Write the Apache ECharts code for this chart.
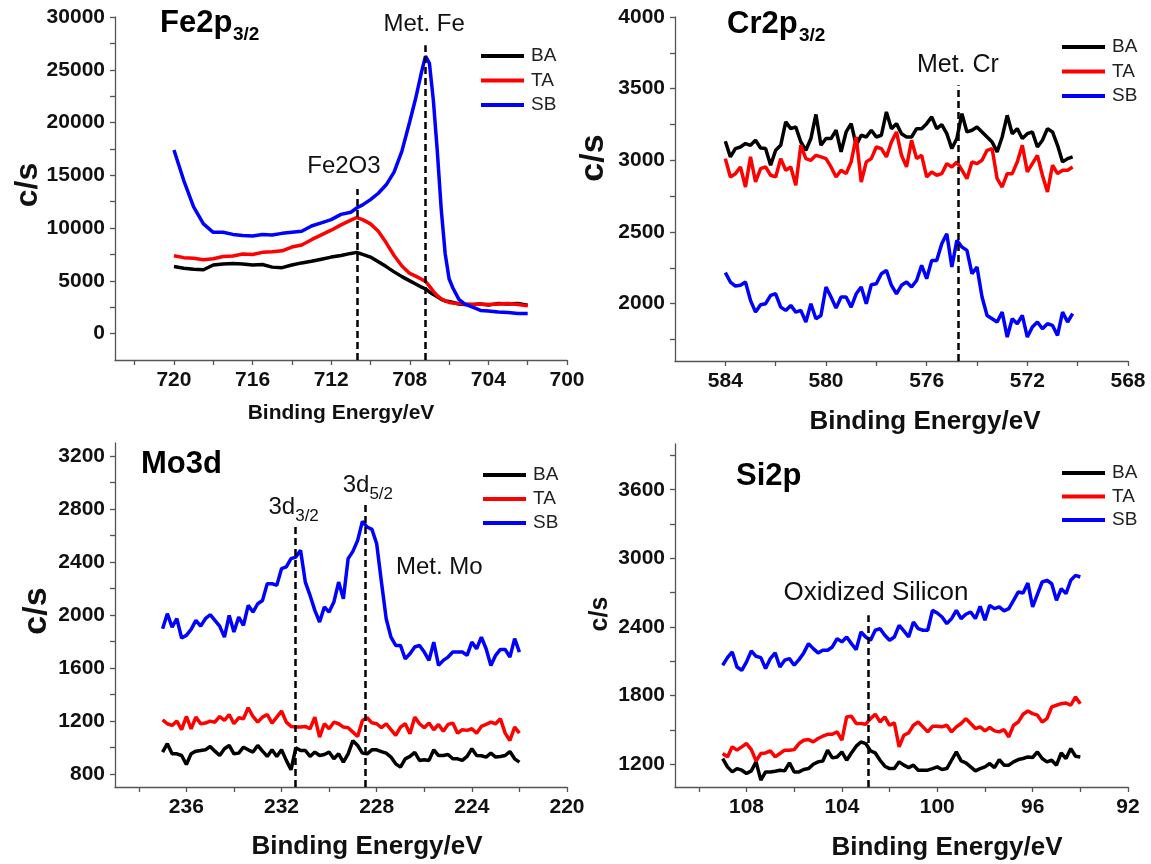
<!DOCTYPE html>
<html><head><meta charset="utf-8">
<script src="https://cdn.jsdelivr.net/npm/echarts@6/dist/echarts.min.js"></script>
<style>html,body{margin:0;padding:0;background:#fff}#c{width:1151px;height:864px}</style>
</head><body><div id="c"></div>
<script>
// ---------------- DATA ----------------
const seriesNames = ['BA', 'TA', 'SB'];
const seriesColors = ['#000000', '#ff0000', '#0000ff'];

// Fe2p3/2 panel
const feEnergy = [720,719.5,719,718.5,718,717.5,717,716.5,716,715.5,715,714.5,714,713.5,713,712.5,712,711.5,711,
  710.7,710.4,710,709.6,709.2,708.8,708.4,708,707.7,707.4,707.2,707,706.8,706.6,706.4,706.2,706,
  705.8,705.5,705.2,704.8,704.4,704,703.5,703,702.5,702];
const feBA = [6360,6200,6100,6050,6500,6600,6650,6600,6500,6550,6300,6250,6500,6700,6850,7050,7250,7400,7600,
  7700,7500,7250,6800,6350,5850,5400,5000,4700,4400,4250,3950,3700,3500,3250,3100,3050,
  2950,2800,2750,2750,2800,2700,2850,2800,2850,2700];
const feTA = [7370,7200,7150,7000,7100,7300,7350,7550,7500,7700,7750,7850,8200,8400,8900,9350,9800,10300,10750,
  11000,10800,10400,9700,8600,7400,6400,5700,5450,5150,4950,4500,4000,3600,3300,3100,2950,
  2900,2850,2800,2750,2800,2750,2800,2850,2750,2650];
const feSB = [17400,14500,12000,10400,9600,9600,9400,9300,9250,9400,9350,9500,9600,9700,10200,10500,10800,11300,11500,
  11900,12200,12700,13300,14100,15300,17300,20100,22300,24800,26300,25600,22100,17300,11800,7600,5200,
  4300,3250,2800,2500,2200,2150,2050,2000,1900,1900];
const feXLabels = [700,704,708,712,716,720];
const feXTicks = [700,702,704,706,708,710,712,714,716,718,720,722];
const feYLabels = [0,5000,10000,15000,20000,25000,30000];
const feYTicks = [0,2500,5000,7500,10000,12500,15000,17500,20000,22500,25000,27500,30000];
const feMarkLines = [[710.67, 13710], [707.22, 27320]];
const feNotes = [['Met. Fe', 707.27, 29310], ['Fe2O3', 711.35, 15820]];

// Cr2p3/2 panel (energy grid 584.0 -> 570.2, step 0.2 eV)
const crStart = 584.0, crStep = -0.2;
const crBA = [3133,3024,3082,3093,3117,3105,3140,3086,3082,2966,
  3070,3105,3268,3221,3233,3128,3070,3152,3320,3105,
  3152,3152,3210,3059,3198,3256,3105,3175,3163,3210,
  3163,3175,3338,3221,3256,3186,3163,3163,3221,3221,
  3256,3303,3221,3249,3186,3082,3152,3326,3198,3210,
  3233,3198,3163,3128,3059,3163,3314,3186,3221,3152,
  3186,3198,3093,3140,3221,3198,3105,2989,3012,3024];
const crTA = [3012,2884,2907,2954,2814,3024,2849,2942,2954,2896,
  2884,3012,2931,2954,2826,3105,3012,3000,3035,3024,
  3012,2954,2884,2931,2907,2989,3163,2849,2989,3012,
  3093,3082,3024,3128,3198,3035,2954,3140,3012,3035,
  2884,2919,2896,2907,2977,2954,2989,2931,2872,2989,
  2977,3000,3070,3082,2872,2814,2907,2907,2989,3105,
  2919,2977,3035,2896,2779,2966,2907,2931,2931,2954];
const crSB = [2216,2151,2123,2128,2151,2023,1941,1993,2000,2058,
  2069,1976,1953,1988,1941,1953,1872,1999,1895,1918,
  2116,2046,1969,2046,2046,1976,2069,2116,1999,2132,
  2139,2209,2232,2127,2069,2128,2151,2116,2162,2267,
  2174,2302,2302,2418,2488,2256,2442,2395,2372,2209,
  2255,2046,1918,1895,1872,1941,1767,1895,1860,1918,
  1767,1837,1872,1825,1860,1848,1779,1941,1872,1930];
const crXLabels = [568,572,576,580,584];
const crXTicks = [568,570,572,574,576,578,580,582,584];
const crYLabels = [2000,2500,3000,3500,4000];
const crYTicks = [1750,2000,2250,2500,2750,3000,3250,3500,3750,4000];
const crMarkLines = [[574.75, 3523]];
const crNotes = [['Met. Cr', 574.76, 3663]];

// Mo3d panel (energy grid 237.0 -> 222.0, step 0.2 eV)
const moStart = 237.0, moStep = -0.2;
const moBA = [964,1027,951,951,938,870,951,971,976,981,
  1006,971,938,989,1014,951,956,1001,981,964,
  1014,971,931,981,931,981,901,830,996,976,
  976,931,964,938,946,964,913,951,888,951,
  1050,1014,956,951,981,981,968,956,926,875,
  850,913,931,961,901,906,901,981,938,938,
  946,913,913,901,931,989,938,936,926,956,
  926,931,938,968,913,888];
const moTA = [1208,1178,1165,1198,1133,1233,1140,1228,1178,1183,
  1198,1190,1233,1203,1248,1178,1223,1216,1299,1233,
  1190,1228,1248,1183,1228,1274,1190,1158,1153,1153,
  1158,1140,1228,1077,1178,1140,1190,1178,1153,1148,
  1115,1082,1203,1223,1185,1178,1148,1178,1133,1090,
  1153,1178,1102,1228,1178,1148,1183,1133,1173,1122,
  1173,1183,1107,1133,1128,1140,1107,1158,1173,1190,
  1178,1216,1107,1052,1153,1107];
const moSB = [1896,2010,1909,1972,1826,1846,1891,1959,1916,1972,
  2002,1959,1916,1833,1997,1871,1984,1921,2073,2022,
  2085,2110,2237,2237,2224,2350,2363,2426,2438,2489,
  2249,2148,2035,1947,2060,2022,2098,2249,2123,2426,
  2481,2564,2708,2665,2647,2539,2249,1972,1833,1770,
  1770,1669,1707,1758,1770,1720,1657,1795,1619,1657,
  1682,1720,1720,1720,1695,1795,1745,1833,1745,1619,
  1695,1740,1740,1682,1821,1720];
const moXLabels = [220,224,228,232,236];
const moXTicks = [220,222,224,226,228,230,232,234,236,238];
const moYLabels = [800,1200,1600,2000,2400,2800,3200];
const moYTicks = [800,1000,1200,1400,1600,1800,2000,2200,2400,2600,2800,3000,3200];
const moMarkLines = [[231.41, 2665], [228.5, 2842]];
const moNotes = [['{a|3d}{b|3/2}', 231.49, 2817], ['{a|3d}{b|5/2}', 228.37, 2981], ['Met. Mo', 225.37, 2360]];

// Si2p panel (energy grid 109.0 -> 94.0, step 0.2 eV)
const siStart = 109.0, siStep = -0.2;
const siBA = [1249,1176,1132,1161,1147,1118,1141,1220,1060,1132,
  1132,1138,1147,1141,1211,1132,1132,1153,1161,1199,
  1220,1228,1322,1255,1263,1307,1234,1298,1357,1394,
  1380,1316,1298,1234,1182,1161,1161,1220,1191,1170,
  1191,1147,1147,1147,1161,1176,1153,1161,1234,1307,
  1228,1211,1176,1141,1161,1176,1205,1170,1240,1191,
  1191,1220,1240,1249,1263,1258,1307,1249,1220,1234,
  1191,1298,1249,1336,1269,1263];
const siTA = [1293,1263,1351,1322,1351,1380,1327,1228,1293,1298,
  1316,1263,1293,1322,1322,1327,1380,1409,1415,1395,
  1424,1444,1461,1461,1482,1409,1613,1619,1555,1555,
  1549,1598,1636,1569,1613,1540,1561,1351,1453,1473,
  1540,1569,1526,1482,1531,1531,1526,1540,1482,1526,
  1555,1598,1555,1511,1526,1491,1520,1491,1482,1502,
  1438,1540,1569,1636,1665,1642,1628,1569,1598,1700,
  1715,1729,1735,1715,1788,1729];
const siSB = [2065,2132,2181,2050,2021,2094,2190,2143,2132,2036,
  2123,2173,2050,2109,2123,2065,2114,2173,2254,2210,
  2173,2196,2196,2225,2298,2269,2312,2254,2202,2356,
  2312,2283,2371,2385,2327,2283,2312,2414,2365,2312,
  2443,2385,2371,2371,2545,2522,2487,2429,2473,2545,
  2473,2511,2531,2473,2580,2458,2589,2560,2575,2540,
  2560,2633,2706,2697,2784,2575,2685,2793,2808,2778,
  2633,2735,2691,2808,2851,2837];
const siXLabels = [92,96,100,104,108];
const siXTicks = [92,94,96,98,100,102,104,106,108,110];
const siYLabels = [1200,1800,2400,3000,3600];
const siYTicks = [1200,1500,1800,2100,2400,2700,3000,3300,3600,3900];
const siMarkLines = [[102.89, 2502]];
const siNotes = [['Oxidized Silicon', 102.57, 2698]];

// ---------------- BUILD ----------------
const FONT = '"Liberation Sans", Arial, sans-serif';
function energyGrid(start, step, n) { const a = []; for (let i = 0; i < n; i++) a.push(+(start + i * step).toFixed(2)); return a; }
function pairs(xs, ys) { return ys.map((y, i) => [xs[i], y]); }

const panels = [
  { x: feEnergy, ys: [feBA, feTA, feSB], xr: [700, 723], yr: [-2500, 30000], xl: feXLabels, xt: feXTicks, yl: feYLabels, yt: feYTicks, ml: feMarkLines, notes: feNotes, noteSize: 24,
    grid: { left: 115, top: 17, width: 452, height: 343 }, legend: { left: 476, top: 41, gap: 4.5 } },
  { x: energyGrid(crStart, crStep, crBA.length), ys: [crBA, crTA, crSB], xr: [568, 586], yr: [1600, 4000], xl: crXLabels, xt: crXTicks, yl: crYLabels, yt: crYTicks, ml: crMarkLines, notes: crNotes, noteSize: 25,
    grid: { left: 675, top: 17, width: 453, height: 344 }, legend: { left: 1057, top: 32, gap: 4.5 } },
  { x: energyGrid(moStart, moStep, moBA.length), ys: [moBA, moTA, moSB], xr: [220, 239], yr: [700, 3300], xl: moXLabels, xt: moXTicks, yl: moYLabels, yt: moYTicks, ml: moMarkLines, notes: moNotes, noteSize: 24,
    grid: { left: 115, top: 443, width: 452, height: 344 }, legend: { left: 478, top: 460, gap: 4 } },
  { x: energyGrid(siStart, siStep, siBA.length), ys: [siBA, siTA, siSB], xr: [92, 111], yr: [1000, 4000], xl: siXLabels, xt: siXTicks, yl: siYLabels, yt: siYTicks, ml: siMarkLines, notes: siNotes, noteSize: 26,
    grid: { left: 675, top: 444, width: 453, height: 343 }, legend: { left: 1057, top: 458, gap: 3.5 } }
];

const axisColor = '#555';
const grids = [], xAxes = [], yAxes = [], series = [], legends = [];
const plainNum = v => String(v);
panels.forEach((p, i) => {
  grids.push(Object.assign({ containLabel: false }, p.grid));
  xAxes.push({
    type: 'value', gridIndex: i, min: p.xr[0], max: p.xr[1], inverse: true,
    axisLine: { show: true, onZero: false, lineStyle: { color: axisColor, width: 1.3 } },
    axisTick: { show: true, customValues: p.xt, length: 5, lineStyle: { color: axisColor, width: 1.3 } },
    axisLabel: { customValues: p.xl, formatter: plainNum, fontSize: 21, fontWeight: 'bold', color: '#111', margin: 10, fontFamily: FONT },
    splitLine: { show: false }
  });
  yAxes.push({
    type: 'value', gridIndex: i, min: p.yr[0], max: p.yr[1],
    axisLine: { show: true, onZero: false, lineStyle: { color: axisColor, width: 1.3 } },
    axisTick: { show: true, customValues: p.yt, length: 5, lineStyle: { color: axisColor, width: 1.3 } },
    axisLabel: { customValues: p.yl, formatter: plainNum, fontSize: 21, fontWeight: 'bold', color: '#111', margin: 10, fontFamily: FONT },
    splitLine: { show: false }
  });
  seriesNames.forEach((name, k) => {
    const s = {
      type: 'line', name: name, xAxisIndex: i, yAxisIndex: i,
      data: pairs(p.x, p.ys[k]), showSymbol: false, symbol: 'none',
      color: seriesColors[k], lineStyle: { width: 3.5, color: seriesColors[k] },
      itemStyle: { color: seriesColors[k] }, z: 2 + k
    };
    if (k === 2) {
      s.markLine = {
        silent: true, symbol: ['none', 'none'], animation: false, z: 10,
        label: { show: false },
        lineStyle: { type: [7, 4], color: '#000', width: 2.5 },
        emphasis: { disabled: true },
        data: p.ml.map(m => [{ coord: [m[0], p.yr[0]] }, { coord: [m[0], m[1]] }])
      };
      s.markPoint = {
        silent: true, animation: false, symbol: 'circle', symbolSize: 1,
        itemStyle: { color: 'rgba(0,0,0,0)' },
        label: {
          show: true, position: 'inside', fontSize: p.noteSize, color: '#111', fontFamily: FONT,
          rich: {
            a: { fontSize: 24, lineHeight: 24, color: '#111', fontFamily: FONT },
            b: { fontSize: 17, lineHeight: 17, padding: [19, 0, 0, 0], color: '#111', fontFamily: FONT }
          }
        },
        data: p.notes.map(n => ({ coord: [n[1], n[2]], label: { formatter: n[0] } }))
      };
    }
    series.push(s);
  });
  legends.push({
    data: seriesNames, orient: 'vertical', left: p.legend.left, top: p.legend.top,
    icon: 'rect', itemWidth: 43, itemHeight: 4, itemGap: p.legend.gap, selectedMode: false,
    textStyle: { fontSize: 19, color: '#222', lineHeight: 20, fontFamily: FONT, padding: [0, 0, 0, 2] }
  });
});

function txt(t, x, y, size, opts) {
  opts = opts || {};
  const align = opts.align || 'center';
  return {
    type: 'text', x: x, y: y, rotation: opts.rot || 0, z: 100,
    style: {
      text: t, font: (opts.weight || 'bold') + ' ' + size + 'px ' + FONT, fill: opts.color || '#111',
      align: align, verticalAlign: 'middle', textAlign: align, textVerticalAlign: 'middle'
    }
  };
}

const graphics = [
  // panel titles (main + subscript)
  txt('Fe2p', 160, 23, 31, { align: 'left', color: '#000' }),
  txt('3/2', 233, 35, 19, { align: 'left', color: '#000' }),
  txt('Cr2p', 727, 24, 31, { align: 'left', color: '#000' }),
  txt('3/2', 799, 36, 19, { align: 'left', color: '#000' }),
  txt('Mo3d', 141, 464, 31, { align: 'left', color: '#000' }),
  txt('Si2p', 736, 476, 31, { align: 'left', color: '#000' }),
  // y axis titles
  txt('c/s', 28, 185, 32, { rot: Math.PI / 2 }),
  txt('c/s', 594, 158, 34, { rot: Math.PI / 2 }),
  txt('c/s', 37, 611, 34, { rot: Math.PI / 2 }),
  txt('c/s', 600, 614, 25, { rot: Math.PI / 2 }),
  // x axis titles
  txt('Binding Energy/eV', 341, 413, 21),
  txt('Binding Energy/eV', 925, 422, 26),
  txt('Binding Energy/eV', 367, 847, 26),
  txt('Binding Energy/eV', 947, 848, 26)
];

const chart = echarts.init(document.getElementById('c'), null, { renderer: 'canvas' });
chart.setOption({
  animation: false,
  backgroundColor: '#ffffff',
  grid: grids, xAxis: xAxes, yAxis: yAxes, series: series, legend: legends,
  graphic: graphics
});
</script>
</body></html>
